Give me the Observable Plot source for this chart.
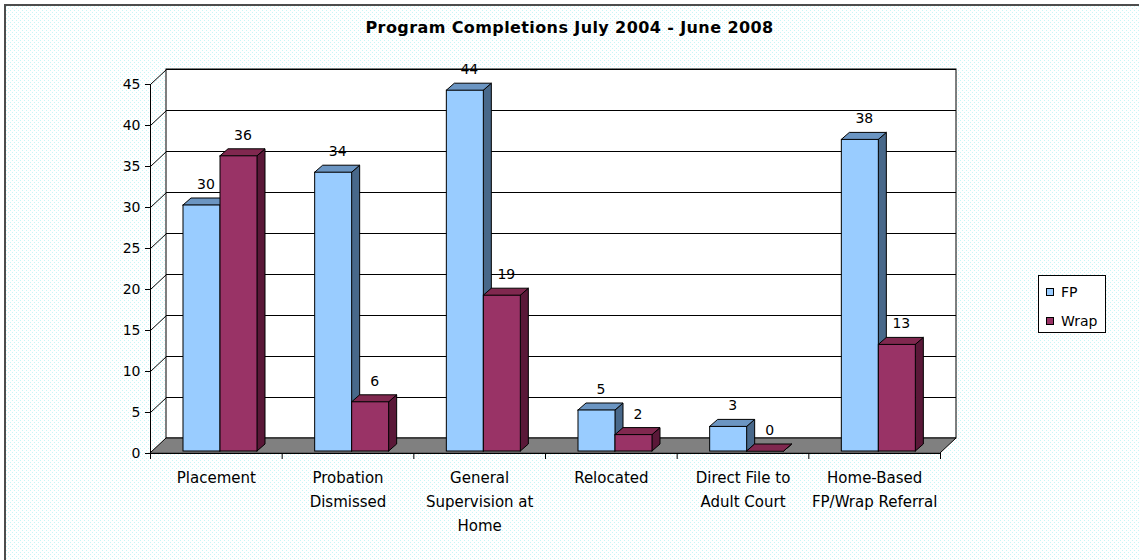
<!DOCTYPE html>
<html>
<head>
<meta charset="utf-8">
<script src="https://cdn.jsdelivr.net/npm/d3@7"></script>
<script src="https://cdn.jsdelivr.net/npm/@observablehq/plot@0.6"></script>
<style>
  html, body { margin: 0; padding: 0; background: #fff; }
  #wrap { position: relative; width: 1139px; height: 560px; overflow: hidden; font-family: "DejaVu Sans", Verdana, sans-serif; }
  #bg { position: absolute; left: 4px; top: 4px; right: 0; bottom: 0;
        border-left: 2px solid #4d4d4d; border-top: 2px solid #4d4d4d;
        background-color: #ffffff;
        background-image: url("data:image/svg+xml,%3Csvg xmlns='http://www.w3.org/2000/svg' width='4' height='4'%3E%3Crect x='0' y='0' width='1' height='1' fill='%23c8f6f6'/%3E%3Crect x='2' y='2' width='1' height='1' fill='%23c8f6f6'/%3E%3C/svg%3E"); }
  #title { position: absolute; left: 0; top: 18px; width: 1139px; text-align: center; font-weight: bold; font-size: 16px; letter-spacing: 0.4px; line-height: 20px; color: #000; }
  #chart { position: absolute; left: 0; top: 0; }
  #legend { position: absolute; left: 1038px; top: 275px; width: 66px; height: 56px; border: 1px solid #000; background: #fff; font-size: 14px; }
  .li { position: absolute; left: 7px; height: 18px; line-height: 18px; }
  .sw { position: absolute; left: 0; top: 5px; width: 6px; height: 6px; border: 1px solid #000; }
  .lt { position: absolute; left: 15px; top: 0; white-space: nowrap; }
</style>
</head>
<body>
<div id="wrap">
  <div id="bg"></div>
  <div id="chart"></div>
  <div id="title"></div>
  <div id="legend"></div>
</div>
<script>
// ---- data ----
const title = "Program Completions July 2004 - June 2008";
const categories = ["Placement", "Probation Dismissed", "General Supervision at Home", "Relocated", "Direct File to Adult Court", "Home-Based FP/Wrap Referral"];
const tickLabels = ["Placement", "Probation\nDismissed", "General\nSupervision at\nHome", "Relocated", "Direct File to\nAdult Court", "Home-Based\nFP/Wrap Referral"];
const seriesNames = ["FP", "Wrap"];
const fpValues = [30, 34, 44, 5, 3, 38];
const wrapValues = [36, 6, 19, 2, 0, 13];
const yTicks = [0, 5, 10, 15, 20, 25, 30, 35, 40, 45];

// ---- styles ----
const frontColors = ["#99ccff", "#993366"];
const topColors = ["#6b95c2", "#80284f"];
const sideColors = ["#48688a", "#5a1838"];

// ---- layout ----
const W = 1139, H = 560, mL = 150, mR = 199, mT = 84, mB = 107;
const n = categories.length;
const yMax = 45;
const pxX = (W - mL - mR) / n, pxY = (H - mT - mB) / yMax;
const wallDX = 16 / pxX, wallDY = 15 / pxY;   // chart depth in data units
const barDX = 8 / pxX, barDY = 7 / pxY;       // bar depth in data units
const barOff = 33 / pxX, barW = 37 / pxX;

const seriesValues = [fpValues, wrapValues];
const bars = [];
seriesValues.forEach((vals, s) => {
  vals.forEach((v, i) => {
    const x1 = i + barOff + s * barW;
    bars.push({key: s + "-" + i, s, cat: categories[i], series: seriesNames[s], value: v, x1, x2: x1 + barW});
  });
});
const tops = bars.flatMap(b => [
  {key: b.key, s: b.s, y: b.value, x1: b.x1, x2: b.x2},
  {key: b.key, s: b.s, y: b.value + barDY, x1: b.x1 + barDX, x2: b.x2 + barDX}
]);
const sides = bars.flatMap(b => [
  {key: b.key, s: b.s, x: b.x2, y1: 0, y2: b.value},
  {key: b.key, s: b.s, x: b.x2 + barDX, y1: barDY, y2: b.value + barDY}
]);
const floor = [
  {y: 0, x1: 0, x2: n},
  {y: wallDY, x1: wallDX, x2: n + wallDX}
];

const barMarks = [];
[0, 1].forEach(s => {
  barMarks.push(Plot.areaY(sides.filter(d => d.s === s), {x: "x", y1: "y1", y2: "y2", z: "key", fill: sideColors[s], stroke: "#000", strokeWidth: 1, dy: -2, curve: "linear"}));
  barMarks.push(Plot.areaX(tops.filter(d => d.s === s), {y: "y", x1: "x1", x2: "x2", z: "key", fill: topColors[s], stroke: "#000", strokeWidth: 1, dy: -2, curve: "linear"}));
  barMarks.push(Plot.rect(bars.filter(d => d.s === s), {x1: "x1", x2: "x2", y1: 0, y2: "value", fill: frontColors[s], stroke: "#000", strokeWidth: 1, dy: -2}));
});

const chart = Plot.plot({
  width: W, height: H,
  marginLeft: mL, marginRight: mR, marginTop: mT, marginBottom: mB,
  style: {background: "transparent", fontFamily: "'DejaVu Sans', Verdana, sans-serif", fontSize: "14px", color: "#000", overflow: "visible"},
  x: {domain: [0, n], axis: null},
  y: {domain: [0, yMax], ticks: yTicks, tickSize: 5, tickPadding: 5, label: null, tickFormat: d => String(d)},
  marks: [
    // back wall
    Plot.rect([{x1: 0, x2: n, y1: 0, y2: yMax}], {x1: "x1", x2: "x2", y1: "y1", y2: "y2", dx: 16, dy: -15, fill: "#fff", stroke: "#000"}),
    // back gridlines
    Plot.ruleY(yTicks, {x1: 0, x2: n, dx: 16, dy: -15, stroke: "#000"}),
    // side wall diagonals
    Plot.link(yTicks, {x1: 0, y1: d => d, x2: wallDX, y2: d => d + wallDY, stroke: "#000"}),
    // floor
    Plot.areaX(floor, {y: "y", x1: "x1", x2: "x2", fill: "#808080", stroke: "#000", curve: "linear"}),
    // front axis lines
    Plot.ruleX([0], {y1: 0, y2: yMax, stroke: "#000"}),
    Plot.ruleY([0], {x1: 0, x2: n, stroke: "#000"}),
    // category boundary ticks
    Plot.ruleX(d3.range(n + 1), {y1: 0, y2: -6 / pxY, stroke: "#000"}),
    ...barMarks,
    // value labels
    Plot.text(bars, {x: d => (d.x1 + d.x2) / 2, y: "value", text: d => String(d.value), dx: 4, dy: -23, fontSize: 14, fill: "#000"}),
    // category labels
    Plot.text(tickLabels, {x: (d, i) => i + 0.5, frameAnchor: "bottom", text: d => d, lineAnchor: "top", dy: 12, lineHeight: 24 / 15, fontSize: 15, fill: "#000"})
  ]
});
document.getElementById("chart").appendChild(chart);
document.getElementById("title").textContent = title;

const legend = document.getElementById("legend");
seriesNames.forEach((name, s) => {
  const item = document.createElement("div");
  item.className = "li";
  item.style.top = (7 + s * 29) + "px";
  const sw = document.createElement("div");
  sw.className = "sw";
  sw.style.background = frontColors[s];
  const t = document.createElement("div");
  t.className = "lt";
  t.textContent = name;
  item.appendChild(sw);
  item.appendChild(t);
  legend.appendChild(item);
});
</script>
</body>
</html>
